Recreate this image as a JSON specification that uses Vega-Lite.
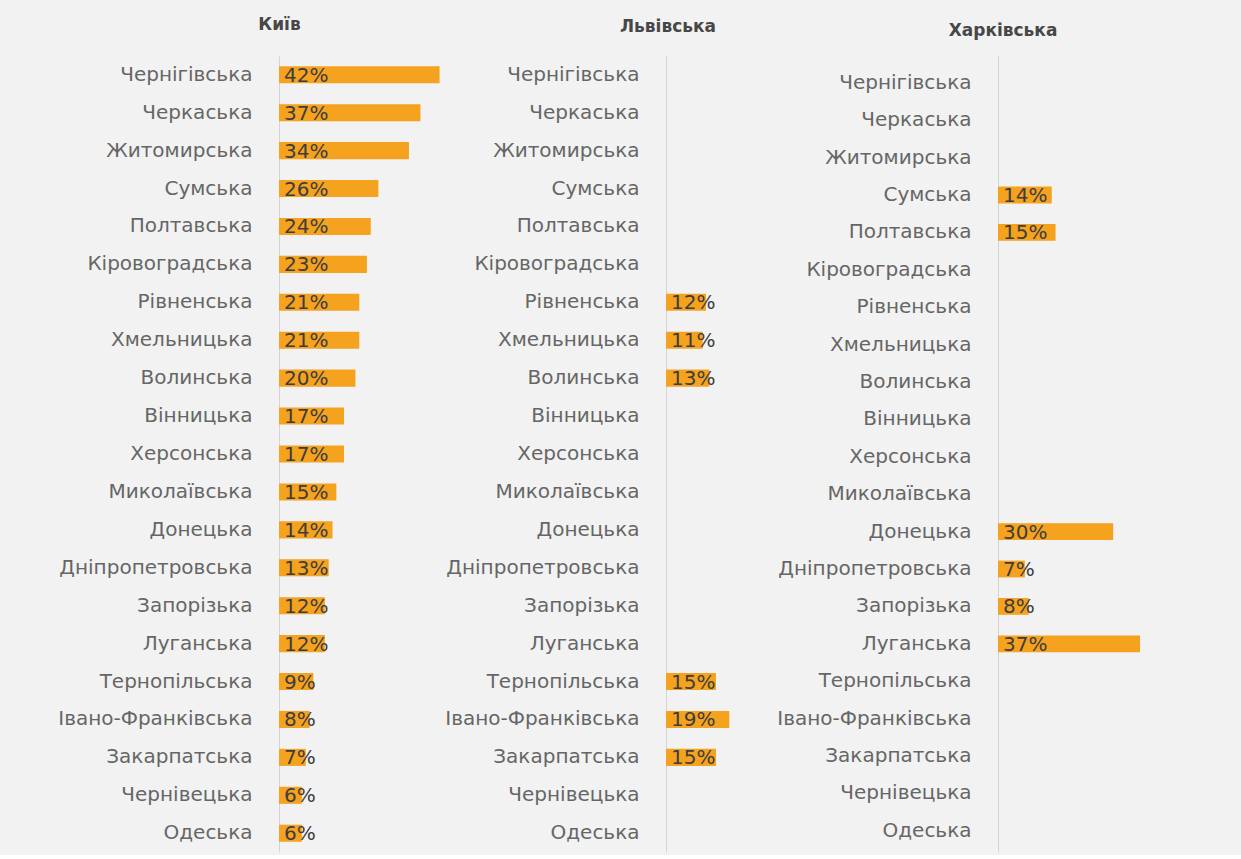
{
  "$schema": "https://vega.github.io/schema/vega-lite/v6.json",
  "background": "#f2f2f2",
  "padding": {"left": 57, "top": 16, "right": 43, "bottom": 3},
  "spacing": 150,
  "bounds": "flush",
  "config": {
    "view": {"stroke": null},
    "font": "DejaVu Sans",
    "axis": {"labelFont": "DejaVu Sans", "labelLimit": 0}
  },
  "datasets": {
    "rows": [
      {"panel": "Київ", "region": "Чернігівська", "value": 0.42},
      {"panel": "Київ", "region": "Черкаська", "value": 0.37},
      {"panel": "Київ", "region": "Житомирська", "value": 0.34},
      {"panel": "Київ", "region": "Сумська", "value": 0.26},
      {"panel": "Київ", "region": "Полтавська", "value": 0.24},
      {"panel": "Київ", "region": "Кіровоградська", "value": 0.23},
      {"panel": "Київ", "region": "Рівненська", "value": 0.21},
      {"panel": "Київ", "region": "Хмельницька", "value": 0.21},
      {"panel": "Київ", "region": "Волинська", "value": 0.20},
      {"panel": "Київ", "region": "Вінницька", "value": 0.17},
      {"panel": "Київ", "region": "Херсонська", "value": 0.17},
      {"panel": "Київ", "region": "Миколаївська", "value": 0.15},
      {"panel": "Київ", "region": "Донецька", "value": 0.14},
      {"panel": "Київ", "region": "Дніпропетровська", "value": 0.13},
      {"panel": "Київ", "region": "Запорізька", "value": 0.12},
      {"panel": "Київ", "region": "Луганська", "value": 0.12},
      {"panel": "Київ", "region": "Тернопільська", "value": 0.09},
      {"panel": "Київ", "region": "Івано-Франківська", "value": 0.08},
      {"panel": "Київ", "region": "Закарпатська", "value": 0.07},
      {"panel": "Київ", "region": "Чернівецька", "value": 0.06},
      {"panel": "Київ", "region": "Одеська", "value": 0.06},
      {"panel": "Львівська", "region": "Рівненська", "value": 0.12},
      {"panel": "Львівська", "region": "Хмельницька", "value": 0.11},
      {"panel": "Львівська", "region": "Волинська", "value": 0.13},
      {"panel": "Львівська", "region": "Тернопільська", "value": 0.15},
      {"panel": "Львівська", "region": "Івано-Франківська", "value": 0.19},
      {"panel": "Львівська", "region": "Закарпатська", "value": 0.15},
      {"panel": "Харківська", "region": "Сумська", "value": 0.14},
      {"panel": "Харківська", "region": "Полтавська", "value": 0.15},
      {"panel": "Харківська", "region": "Донецька", "value": 0.30},
      {"panel": "Харківська", "region": "Дніпропетровська", "value": 0.07},
      {"panel": "Харківська", "region": "Запорізька", "value": 0.08},
      {"panel": "Харківська", "region": "Луганська", "value": 0.37}
    ]
  },
  "hconcat": [
    {
      "width": 237,
      "height": 796,
      "data": {"name": "rows"},
      "transform": [{"filter": "datum.panel === 'Київ'"}],
      "title": {"text": "Київ", "anchor": "middle", "dx": -118, "offset": 22, "fontSize": 17, "fontWeight": "bold", "color": "#474747"},
      "encoding": {
        "y": {"field": "region", "type": "nominal", "sort": null,
          "scale": {"domain": ["Чернігівська","Черкаська","Житомирська","Сумська","Полтавська","Кіровоградська","Рівненська","Хмельницька","Волинська","Вінницька","Херсонська","Миколаївська","Донецька","Дніпропетровська","Запорізька","Луганська","Тернопільська","Івано-Франківська","Закарпатська","Чернівецька","Одеська"], "paddingInner": 0.55, "paddingOuter": 0.27},
          "axis": {"title": null, "ticks": false, "labelPadding": 27, "labelFontSize": 20, "labelColor": "#666666", "domainColor": "#d4d4d4", "domainWidth": 1}}
      },
      "layer": [
        {"mark": {"type": "bar", "color": "#f5a21f"},
          "encoding": {"x": {"field": "value", "type": "quantitative", "scale": {"domain": [0, 0.62], "nice": false}, "axis": null}}},
        {"mark": {"type": "text", "align": "left", "dx": 5, "dy": 1, "fontSize": 20, "color": "#3d3d3d"},
          "encoding": {"x": {"datum": 0, "type": "quantitative"}, "text": {"field": "value", "type": "quantitative", "format": ".0%"}}}
      ]
    },
    {
      "width": 182,
      "height": 796,
      "data": {"name": "rows"},
      "transform": [{"filter": "datum.panel === 'Львівська'"}],
      "title": {"text": "Львівська", "anchor": "middle", "dx": -89, "offset": 20, "fontSize": 17, "fontWeight": "bold", "color": "#474747"},
      "encoding": {
        "y": {"field": "region", "type": "nominal", "sort": null,
          "scale": {"domain": ["Чернігівська","Черкаська","Житомирська","Сумська","Полтавська","Кіровоградська","Рівненська","Хмельницька","Волинська","Вінницька","Херсонська","Миколаївська","Донецька","Дніпропетровська","Запорізька","Луганська","Тернопільська","Івано-Франківська","Закарпатська","Чернівецька","Одеська"], "paddingInner": 0.55, "paddingOuter": 0.27},
          "axis": {"title": null, "ticks": false, "labelPadding": 27, "labelFontSize": 20, "labelColor": "#666666", "domainColor": "#d4d4d4", "domainWidth": 1}}
      },
      "layer": [
        {"mark": {"type": "bar", "color": "#f5a21f"},
          "encoding": {"x": {"field": "value", "type": "quantitative", "scale": {"domain": [0, 0.5465], "nice": false}, "axis": null}}},
        {"mark": {"type": "text", "align": "left", "dx": 5, "dy": 1, "fontSize": 20, "color": "#3d3d3d"},
          "encoding": {"x": {"datum": 0, "type": "quantitative"}, "text": {"field": "value", "type": "quantitative", "format": ".0%"}}}
      ]
    },
    {
      "width": 200,
      "height": 796,
      "data": {"name": "rows"},
      "transform": [{"filter": "datum.panel === 'Харківська'"}],
      "title": {"text": "Харківська", "anchor": "middle", "dx": -95, "offset": 16, "fontSize": 17, "fontWeight": "bold", "color": "#474747"},
      "encoding": {
        "y": {"field": "region", "type": "nominal", "sort": null,
          "scale": {"domain": ["Чернігівська","Черкаська","Житомирська","Сумська","Полтавська","Кіровоградська","Рівненська","Хмельницька","Волинська","Вінницька","Херсонська","Миколаївська","Донецька","Дніпропетровська","Запорізька","Луганська","Тернопільська","Івано-Франківська","Закарпатська","Чернівецька","Одеська"], "paddingInner": 0.55, "paddingOuter": 0.417, "align": 0.59},
          "axis": {"title": null, "ticks": false, "labelPadding": 27, "labelFontSize": 20, "labelColor": "#666666", "domainColor": "#d4d4d4", "domainWidth": 1}}
      },
      "layer": [
        {"mark": {"type": "bar", "color": "#f5a21f"},
          "encoding": {"x": {"field": "value", "type": "quantitative", "scale": {"domain": [0, 0.521], "nice": false}, "axis": null}}},
        {"mark": {"type": "text", "align": "left", "dx": 5, "dy": 1, "fontSize": 20, "color": "#3d3d3d"},
          "encoding": {"x": {"datum": 0, "type": "quantitative"}, "text": {"field": "value", "type": "quantitative", "format": ".0%"}}}
      ]
    }
  ]
}
